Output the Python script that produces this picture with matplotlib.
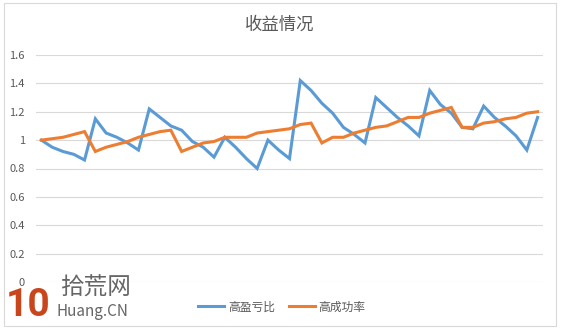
import matplotlib
matplotlib.use("Agg")
import matplotlib.pyplot as plt
from matplotlib.patches import Rectangle

plt.rcParams['font.family'] = ['Noto Sans CJK SC', 'DejaVu Sans']

# data
title = '收益情况'
series_names = ['高盈亏比', '高成功率']
gain_ratio = [1.00, 0.95, 0.92, 0.90, 0.86, 1.15, 1.05, 1.02, 0.98, 0.93,
              1.22, 1.16, 1.10, 1.07, 0.99, 0.95, 0.88, 1.02, 0.95, 0.87,
              0.80, 1.00, 0.93, 0.87, 1.42, 1.35, 1.26, 1.19, 1.09, 1.04,
              0.98, 1.30, 1.23, 1.16, 1.10, 1.03, 1.35, 1.25, 1.19, 1.09,
              1.08, 1.24, 1.16, 1.10, 1.03, 0.93, 1.16]
win_rate = [1.00, 1.01, 1.02, 1.04, 1.06, 0.92, 0.95, 0.97, 0.99, 1.02,
            1.04, 1.06, 1.07, 0.92, 0.95, 0.98, 0.99, 1.02, 1.02, 1.02,
            1.05, 1.06, 1.07, 1.08, 1.11, 1.12, 0.98, 1.02, 1.02, 1.05,
            1.07, 1.09, 1.10, 1.13, 1.16, 1.16, 1.19, 1.21, 1.23, 1.09,
            1.09, 1.12, 1.13, 1.15, 1.16, 1.19, 1.20]
yticks = [0, 0.2, 0.4, 0.6, 0.8, 1.0, 1.2, 1.4, 1.6]
ytick_labels = ['0', '0.2', '0.4', '0.6', '0.8', '1', '1.2', '1.4', '1.6']

fig = plt.figure(figsize=(5.61, 3.29), dpi=100)
fig.patch.set_facecolor('white')

# outer chart border
fig.patches.append(Rectangle((4 / 561, 3 / 329), 552 / 561, 323 / 329,
                             transform=fig.transFigure, fill=False,
                             edgecolor='#d9d9d9', linewidth=0.8))

ax = fig.add_axes([36 / 561, 47 / 329, 507 / 561, 227 / 329])
x = range(len(gain_ratio))
ax.plot(x, gain_ratio, color='#5b9bd5', linewidth=2.2, label=series_names[0],
        solid_joinstyle='miter', zorder=3)
ax.plot(x, win_rate, color='#ed7d31', linewidth=2.2, label=series_names[1],
        solid_joinstyle='miter', zorder=3)

ax.set_xlim(-0.5, len(gain_ratio) - 0.5)
ax.set_ylim(0, 1.6)
ax.set_yticks(yticks)
ax.set_yticklabels(ytick_labels)
ax.set_xticks([])
ax.grid(axis='y', color='#d9d9d9', linewidth=0.8)
ax.set_axisbelow(True)
for s in ax.spines.values():
    s.set_visible(False)
ax.tick_params(axis='y', length=0, pad=8, labelsize=8, labelcolor='#595959')

fig.text(280 / 561, 1 - 25 / 329, title, ha='center', va='center',
         fontsize=12.5, color='#595959')

fig.legend(loc='center', bbox_to_anchor=(282 / 561, 1 - 307 / 329), ncol=2,
           frameon=False, fontsize=8.5, labelcolor='#595959', handlelength=2.2,
           handletextpad=0.3, columnspacing=1.2)

# watermark
fig.text(6 / 561, 1 - 306 / 329, '10', ha='left', va='center', fontsize=28,
         fontweight='bold', color='#c9461c', family=['Roboto', 'DejaVu Sans'])
fig.text(60 / 561, 1 - 288 / 329, '拾荒网', ha='left', va='center',
         fontsize=17, color='#666666')
fig.text(57 / 561, 1 - 312 / 329, 'Huang.CN', ha='left', va='center',
         fontsize=11, color='#666666')

fig.savefig('out.png', dpi=100)
